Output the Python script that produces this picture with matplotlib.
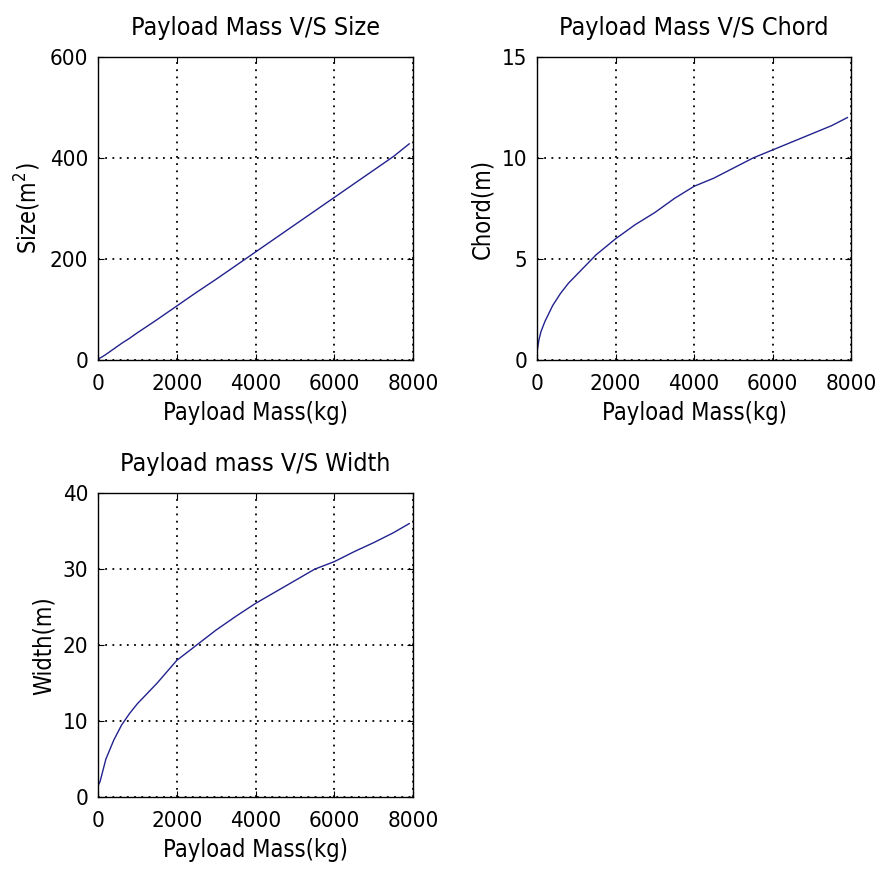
import matplotlib.pyplot as plt
from matplotlib import font_manager as fm

# narrow face if present, otherwise condensed DejaVu
try:
    fm.findfont(fm.FontProperties(family='Liberation Sans Narrow'), fallback_to_default=False)
    plt.rcParams['font.family'] = ['Liberation Sans Narrow', 'DejaVu Sans']
except ValueError:
    plt.rcParams['font.family'] = ['DejaVu Sans']
    plt.rcParams['font.stretch'] = 'condensed'

# payload mass samples (kg) and sizing results read per mass
mass = [0, 50, 100, 200, 400, 600, 800, 1000, 1500, 2000, 2500, 3000,
        3500, 4000, 4500, 5000, 5500, 6000, 6500, 7000, 7500, 7900]
size = [1, 4, 6, 11, 22, 33, 43, 54, 80, 107, 134, 160,
        187, 214, 241, 268, 295, 322, 349, 376, 403, 428]
chord = [0.4, 1.0, 1.4, 1.9, 2.7, 3.3, 3.8, 4.2, 5.2, 6.0, 6.7, 7.3,
         8.0, 8.6, 9.0, 9.5, 10.0, 10.4, 10.8, 11.2, 11.6, 12.0]
width = [1.5, 2.0, 3.0, 5.0, 7.5, 9.5, 11.0, 12.3, 15.0, 18.0, 20.0, 22.0,
         23.8, 25.5, 27.0, 28.5, 30.0, 31.0, 32.3, 33.5, 34.8, 36.0]

xticks = [0, 2000, 4000, 6000, 8000]

panels = [
    ([0.1116, 0.589, 0.359, 0.346], size, 'Payload Mass V/S Size', 'Size(m$^2$)', [0, 200, 400, 600]),
    ([0.6116, 0.589, 0.358, 0.346], chord, 'Payload Mass V/S Chord', 'Chord(m)', [0, 5, 10, 15]),
    ([0.1116, 0.090, 0.359, 0.347], width, 'Payload mass V/S Width', 'Width(m)', [0, 10, 20, 30, 40]),
]

fig = plt.figure(figsize=(8.78, 8.76), dpi=100)

for rect, ydata, title, ylabel, yticks in panels:
    ax = fig.add_axes(rect)
    ax.plot(mass, ydata, color='#22228e', linewidth=1)
    ax.set_xlim(0, 8000)
    ax.set_ylim(yticks[0], yticks[-1])
    ax.set_xticks(xticks)
    ax.set_yticks(yticks)
    ax.grid(True, color='black', linestyle=(0, (1, 3)), linewidth=1.3)
    ax.tick_params(direction='in', top=True, right=True, labelsize=16, length=4)
    ax.tick_params(axis='x', pad=10)
    ax.tick_params(axis='y', pad=7)
    ax.set_title(title, fontsize=18, pad=16)
    ax.set_xlabel('Payload Mass(kg)', fontsize=17, labelpad=5)
    ax.set_ylabel(ylabel, fontsize=17, labelpad=5)
    for s in ax.spines.values():
        s.set_linewidth(1)

fig.savefig('out.png', dpi=100)
